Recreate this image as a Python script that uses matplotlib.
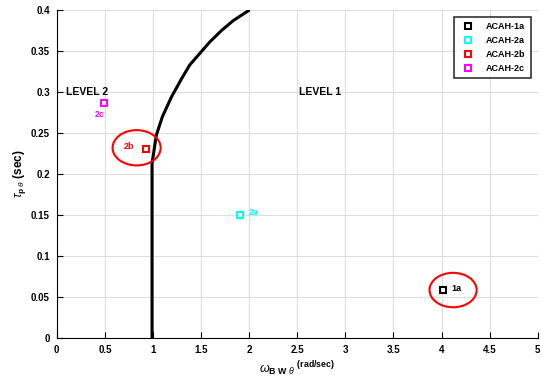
import matplotlib
matplotlib.use("Agg")
import matplotlib.pyplot as plt
from matplotlib.patches import Ellipse

plt.rcParams['font.family'] = ['Liberation Sans', 'DejaVu Sans']
plt.rcParams['mathtext.fontset'] = 'custom'
plt.rcParams['mathtext.rm'] = 'Liberation Sans'
plt.rcParams['mathtext.it'] = 'Liberation Sans:italic'
plt.rcParams['mathtext.bf'] = 'Liberation Sans:bold'

# level 1/2 boundary
bound_x = [0.99, 0.99, 1.035, 1.098, 1.192, 1.296, 1.382, 1.486, 1.59, 1.712, 1.833, 1.99]
bound_y = [0.0, 0.213, 0.2475, 0.270, 0.294, 0.316, 0.333, 0.347, 0.361, 0.375, 0.387, 0.399]

# test points
names = ['ACAH-1a', 'ACAH-2a', 'ACAH-2b', 'ACAH-2c']
short = ['1a', '2a', '2b', '2c']
wbw = [4.01, 1.9, 0.93, 0.49]
tau = [0.059, 0.15, 0.23, 0.287]
colors = ['black', 'cyan', 'red', 'magenta']
label_dx = [0.15, 0.15, -0.18, -0.04]
label_dy = [0.002, 0.003, 0.003, -0.014]

fig = plt.figure(figsize=(5.41, 3.85), dpi=100)
ax = fig.add_axes([0.105, 0.122, 0.889, 0.852])

ax.plot(bound_x, bound_y, color='black', lw=2.2, zorder=2)

for n, s, x, y, c, dx, dy in zip(names, short, wbw, tau, colors, label_dx, label_dy):
    ax.plot(x, y, 's', ms=5, mfc='white', mec=c, mew=1.5, ls='none', label=n, zorder=4)
    ax.text(x + dx, y + dy, s, color=c, fontsize=6.5, fontweight='bold',
            ha='center', va='center')

# circled points
ax.add_patch(Ellipse((4.12, 0.0585), 0.49, 0.042, fill=False, ec='red', lw=1.5, zorder=3))
ax.add_patch(Ellipse((0.83, 0.232), 0.5, 0.043, fill=False, ec='red', lw=1.5, zorder=3))

ax.text(0.1, 0.3, 'LEVEL 2', fontsize=7.5, fontweight='bold', va='center')
ax.text(2.52, 0.3, 'LEVEL 1', fontsize=7.5, fontweight='bold', va='center')

ax.set_xlim(0, 5)
ax.set_ylim(0, 0.4)
ax.set_xticks([0, 0.5, 1, 1.5, 2, 2.5, 3, 3.5, 4, 4.5, 5])
ax.set_xticklabels(['0', '0.5', '1', '1.5', '2', '2.5', '3', '3.5', '4', '4.5', '5'])
ax.set_yticks([0, 0.05, 0.1, 0.15, 0.2, 0.25, 0.3, 0.35, 0.4])
ax.set_yticklabels(['0', '0.05', '0.1', '0.15', '0.2', '0.25', '0.3', '0.35', '0.4'])
ax.tick_params(direction='in', length=4, labelsize=7, width=0.8, pad=5)
for lab in ax.get_xticklabels() + ax.get_yticklabels():
    lab.set_fontweight('bold')
ax.grid(True, color='#dddddd', lw=0.8)
ax.set_axisbelow(True)
ax.spines['top'].set_visible(False)
ax.spines['right'].set_visible(False)

ax.set_xlabel(r'$\omega_{\mathbf{B\ W}\ \theta}$ $^{\mathbf{(rad/sec)}}$', fontsize=9, labelpad=3)
ax.set_ylabel(r'$\tau_{\mathbf{p}\ \theta}$ (sec)', fontsize=8.5, fontweight='bold', labelpad=2)

leg = ax.legend(loc='upper right', bbox_to_anchor=(0.99, 0.985),
                prop={'weight': 'bold', 'size': 6.5}, frameon=True, fancybox=False,
                edgecolor='black', handletextpad=1.0, borderpad=0.6, labelspacing=0.55,
                borderaxespad=0.2)
leg.get_frame().set_linewidth(1.2)

fig.savefig('out.png', dpi=100)
